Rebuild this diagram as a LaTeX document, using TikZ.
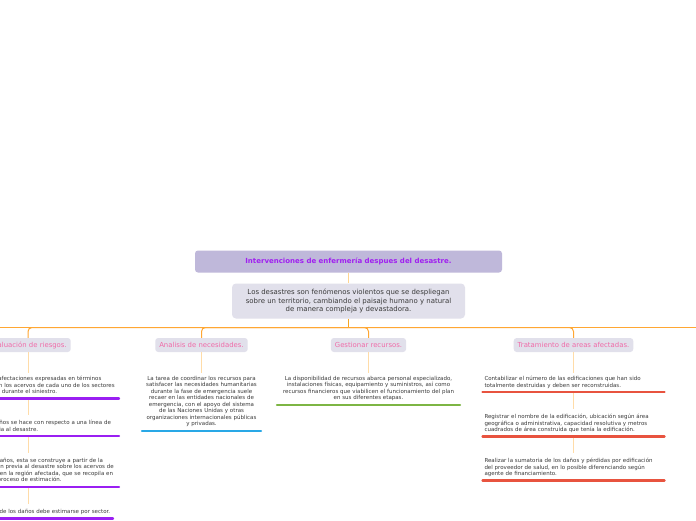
\documentclass[tikz,border=0pt]{standalone}
\usepackage{fontspec}
\setmainfont{DejaVu Sans}
\definecolor{rootlav}{HTML}{BFB8DA}
\definecolor{boxlav}{HTML}{E1E0EB}
\definecolor{rootpurple}{HTML}{A020F0}
\definecolor{topicpink}{HTML}{F06BA8}
\definecolor{leafink}{HTML}{3A3A3A}
\definecolor{ulpurple}{HTML}{9A1FF2}
\definecolor{ulblue}{HTML}{29A8E6}
\definecolor{ulgreen}{HTML}{7DB544}
\definecolor{ulred}{HTML}{E8533F}
\definecolor{stemorange}{HTML}{FFD591}
\definecolor{huborange}{HTML}{F5A623}
\definecolor{boughorange}{HTML}{FFA733}
\definecolor{twigorange}{HTML}{FFDCA8}
\tikzset{
  maintopic/.style={rounded corners=3pt, fill=rootlav, minimum width=307pt, minimum height=22pt, inner sep=0pt, text=rootpurple, font=\bfseries\fontsize{7}{8}\selectfont},
  subtopic/.style={rounded corners=4pt, fill=boxlav, minimum width=233pt, minimum height=35pt, inner sep=0pt, align=center, text=leafink, font=\fontsize{6.95}{8.5}\selectfont},
  topic/.style={rounded corners=3pt, fill=boxlav, inner xsep=4pt, inner ysep=0pt, minimum height=14pt, text=topicpink, font=\fontsize{6.9}{7.5}\selectfont},
  leaf/.style={anchor=north, inner xsep=3pt, inner ysep=0pt, text width=#1, text=leafink, font=\fontsize{5.5}{6.5}\selectfont},
  leaf/.default=178pt,
  underbar/.style={draw=#1, line width=2.4pt, line cap=round},
  bough/.style={draw=boughorange, line width=1.2pt},
  twig/.style={draw=twigorange, line width=0.9pt}
}
\begin{document}
\begin{tikzpicture}[x=1pt, y=-1pt]
\useasboundingbox (0,0) rectangle (696,520);
\fill[white] (0,0) rectangle (696,520);
\clip (0,0) rectangle (696,520);

% central topic
\node[maintopic] (root) at (348.5,261.5) {Intervenciones de enfermería despues del desastre.};
\node[subtopic] (intro) at (348.5,301) {Los desastres son fenómenos violentos que se despliegan\\sobre un territorio, cambiando el paisaje humano y natural\\de manera compleja y devastadora.};
\coordinate (hub) at (348.5,327.5);
\coordinate (farL) at (-40,327.5);
\coordinate (farR) at (740,327.5);
\draw[stemorange, line width=0.9pt] (root) -- (intro);
\draw[huborange, line width=1pt] (intro) -- (hub);
\draw[bough] (farL) -- (farR);

% branches
\node[topic] (eval) at (28,345) {Evaluación de riesgos.};
\node[topic] (need) at (201.5,345) {Analisis de necesidades.};
\node[topic] (res) at (368.5,345) {Gestionar recursos.};
\node[topic] (area) at (573.5,345) {Tratamiento de areas afectadas.};
\foreach \b in {eval,need,res,area}{\draw[bough, line width=1pt, rounded corners=4pt] (hub) -| (\b);}

% leaves
\node[leaf, align=left] (eval1) at (28,376) {Cuantificación de las afectaciones expresadas en términos\\monetarios sufridos en los acervos de cada uno de los sectores\\productivos y sociales durante el siniestro.};
\node[leaf, align=left] (eval2) at (28,420) {La medición de los daños se hace con respecto a una línea de\\base de la etapa previa al desastre.};
\node[leaf, align=left] (eval3) at (28,458) {Para determinar sus daños, esta se construye a partir de la\\encuesta e información previa al desastre sobre los acervos de\\capital y los servicios en la región afectada, que se recopila en\\campos o durante el proceso de estimación.};
\node[leaf=168pt, inner xsep=2pt, align=left] (eval4) at (28,509) {La estimación final, de los daños debe estimarse por sector.};
\node[leaf=121pt, inner xsep=0pt, align=center] (need1) at (201.5,376) {La tarea de coordinar los recursos para\\satisfacer las necesidades humanitarias\\durante la fase de emergencia suele\\recaer en las entidades nacionales de\\emergencia, con el apoyo del sistema\\de las Naciones Unidas y otras\\organizaciones internacionales públicas\\y privadas.};
\node[leaf=185pt, inner xsep=0pt, align=center] (res1) at (368.5,376) {La disponibilidad de recursos abarca personal especializado,\\instalaciones físicas, equipamiento y suministros, así como\\recursos financieros que viabilicen el funcionamiento del plan\\en sus diferentes etapas.};
\node[leaf, align=left] (area1) at (573.5,376) {Contabilizar el número de las edificaciones que han sido\\totalmente destruidas y deben ser reconstruidas.};
\node[leaf, align=left] (area2) at (573.5,414) {Registrar el nombre de la edificación, ubicación según área\\geográfica o administrativa, capacidad resolutiva y metros\\cuadrados de área construida que tenía la edificación.};
\node[leaf, align=left] (area3) at (573.5,458) {Realizar la sumatoria de los daños y pérdidas por edificación\\del proveedor de salud, en lo posible diferenciando según\\agente de financiamiento.};

\foreach \n/\c in {eval1/ulpurple, eval2/ulpurple, eval3/ulpurple, eval4/ulpurple, need1/ulblue, res1/ulgreen, area1/ulred, area2/ulred, area3/ulred}
  \draw[underbar=\c] ([xshift=1.2pt,yshift=-3.5pt]\n.south west) -- ([xshift=-1.2pt,yshift=-3.5pt]\n.south east);
\foreach \a/\b in {eval/eval1, need/need1, res/res1, area/area1}
  \draw[twig, shorten >=3pt] (\a) -- (\b);
\foreach \a/\b in {eval1/eval2, eval2/eval3, eval3/eval4, area1/area2, area2/area3}
  \draw[twig, shorten <=5pt, shorten >=5pt] (\a) -- (\b);
\end{tikzpicture}
\end{document}
